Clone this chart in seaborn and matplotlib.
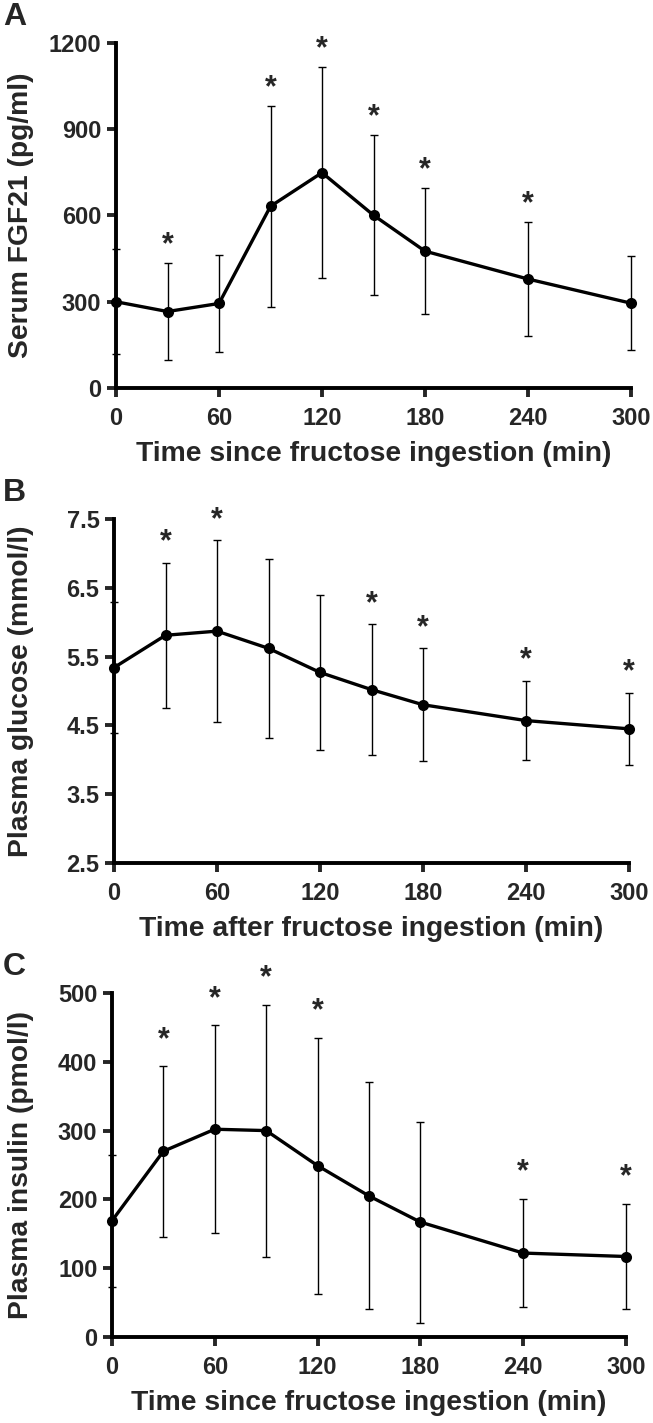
import numpy as np
import pandas as pd
import seaborn as sns
import matplotlib.pyplot as plt

# time points (min)
time = [0, 30, 60, 90, 120, 150, 180, 240, 300]

# Serum FGF21 (pg/ml), mean and SD
fgf21_mean = [300, 266, 294, 632, 749, 601, 476, 379, 295]
fgf21_sd = [183, 168, 170, 349, 368, 279, 219, 199, 163]
fgf21_star = [30, 90, 120, 150, 180, 240]

# Plasma glucose (mmol/l)
glucose_mean = [5.34, 5.81, 5.87, 5.62, 5.27, 5.02, 4.80, 4.57, 4.45]
glucose_sd = [0.95, 1.05, 1.32, 1.30, 1.13, 0.95, 0.82, 0.58, 0.52]
glucose_star = [30, 60, 150, 180, 240, 300]

# Plasma insulin (pmol/l)
insulin_mean = [169, 270, 302, 300, 249, 205, 167, 122, 117]
insulin_sd = [96, 124, 151, 183, 186, 165, 146, 79, 77]
insulin_star = [30, 60, 90, 120, 240, 300]

sns.set_theme(style='ticks')
plt.rcParams['font.family'] = ['Liberation Sans', 'DejaVu Sans']
plt.rcParams['font.weight'] = 'bold'

fig = plt.figure(figsize=(6.53, 14.23), dpi=100)

panels = [
    dict(letter='A', mean=fgf21_mean, sd=fgf21_sd, star=fgf21_star,
         ylabel='Serum FGF21 (pg/ml)', xlabel='Time since fructose ingestion (min)',
         ylim=(0, 1200), yticks=[0, 300, 600, 900, 1200], fmt='{:.0f}',
         rect=[116/653, 1-388/1423, 515/653, 345/1423], off=7),
    dict(letter='B', mean=glucose_mean, sd=glucose_sd, star=glucose_star,
         ylabel='Plasma glucose (mmol/l)', xlabel='Time after fructose ingestion (min)',
         ylim=(2.5, 7.5), yticks=[2.5, 3.5, 4.5, 5.5, 6.5, 7.5], fmt='{:.1f}',
         rect=[114/653, 1-863/1423, 515/653, 344/1423], off=9),
    dict(letter='C', mean=insulin_mean, sd=insulin_sd, star=insulin_star,
         ylabel='Plasma insulin (pmol/l)', xlabel='Time since fructose ingestion (min)',
         ylim=(0, 500), yticks=[0, 100, 200, 300, 400, 500], fmt='{:.0f}',
         rect=[112/653, 1-1337/1423, 514/653, 344/1423], off=13),
]

for p in panels:
    ax = fig.add_axes(p['rect'])
    df = pd.DataFrame({'time': time, 'mean': p['mean'], 'sd': p['sd']})

    ax.errorbar(df['time'], df['mean'], yerr=df['sd'], fmt='none', ecolor='black',
                elinewidth=1.0, capsize=3, capthick=1.0, zorder=2, clip_on=False)
    sns.lineplot(data=df, x='time', y='mean', ax=ax, color='black', lw=2.4,
                 marker='o', markersize=8, markeredgewidth=0, zorder=3)
    for ln in ax.lines:
        ln.set_clip_on(False)

    # significance asterisks
    for t in p['star']:
        i = time.index(t)
        ax.annotate('*', (t, p['mean'][i] + p['sd'][i]), xytext=(0, p['off']),
                    textcoords='offset points', ha='center', va='baseline',
                    fontsize=22, fontweight='bold', annotation_clip=False)

    ax.set_xlim(0, 300)
    ax.set_ylim(*p['ylim'])
    ax.set_xticks([0, 60, 120, 180, 240, 300])
    ax.set_yticks(p['yticks'])
    ax.set_yticklabels([p['fmt'].format(v) for v in p['yticks']])
    ax.tick_params(axis='both', labelsize=17, width=2.8, length=6.5, pad=4)
    ax.tick_params(axis='x', pad=7)
    for lab in ax.get_xticklabels() + ax.get_yticklabels():
        lab.set_fontweight('bold')
    sns.despine(ax=ax)
    for s in ['left', 'bottom']:
        ax.spines[s].set_linewidth(2.8)
        ax.spines[s].set_color('black')
    ax.set_xlabel(p['xlabel'], fontsize=20.3, fontweight='bold', labelpad=8)
    ax.set_ylabel(p['ylabel'], fontsize=20.3, fontweight='bold')
    # right edge of the rotated label about 33 px from the figure edge
    ax.yaxis.set_label_coords((34 - p['rect'][0] * 653) / (p['rect'][2] * 653), 0.5)

    top_px = (1 - p['rect'][1] - p['rect'][3]) * 1423
    fig.text(3/653, 1 - (top_px - 26)/1423, p['letter'], fontsize=23,
             fontweight='bold', ha='left', va='center')

fig.savefig('out.png', dpi=100)
